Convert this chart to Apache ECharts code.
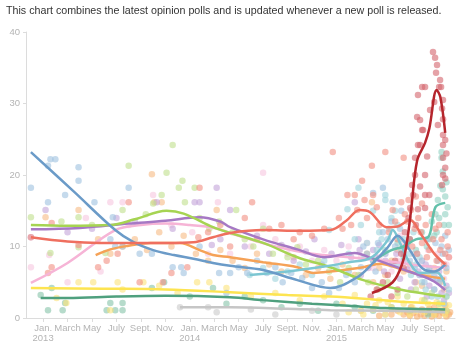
<!DOCTYPE html>
<html>
<head>
<meta charset="utf-8">
<script src="https://cdn.jsdelivr.net/npm/echarts@6/dist/echarts.min.js"></script>
<style>
  html, body { margin: 0; padding: 0; background: #fff; }
  #chart { width: 460px; height: 348px; }
</style>
</head>
<body>
<div id="chart"></div>
<script>
// x = months since Jan. 1, 2013; y = poll share (%)
const tickMonths = [0, 2, 4, 6, 8, 10, 12, 14, 16, 18, 20, 22, 24, 26, 28, 30, 32];
const monthNames = ['Jan.', 'March', 'May', 'July', 'Sept.', 'Nov.'];
const yTicks = [0, 10, 20, 30, 40];

// ---- smoothed trend lines ----
const trumpTrend = [[26.9,3.5],[28.6,5.0],[29.4,7.7],[29.8,11],[30.1,15],[30.6,22],[31.25,24.5],[31.6,26.5],[32.2,31.9],[32.5,30.9],[32.9,25.9]];
const bushTrend = [[-1,11.3],[2,10.7],[4.6,10.5],[7.4,10.5],[10.2,10.5],[12.3,10.6],[13.9,11.3],[15.3,11.9],[18,12.3],[21,12.2],[23.5,12.3],[24.8,13.6],[25.9,15.1],[26.75,14.8],[28.1,12.7],[29,12.8],[30,13.7],[31,11.5],[32,9.0],[32.9,7.5]];
const rubioTrend = [[-1,23.2],[2.5,17.7],[5.9,12.3],[7.4,10.6],[9,9.5],[10.7,8.8],[12.3,8.3],[13.9,7.7],[15.3,7.3],[18,6.7],[20.8,5.3],[23.5,4.2],[25.7,5.7],[27,7.7],[28.2,9.9],[29,11.5],[30,9.5],[31,7.0],[32,6.5],[32.9,7.5]];
const christieTrend = [[-1,13.0],[2,12.9],[5.5,13.0],[7.5,13.8],[10.1,15.0],[11.5,14.6],[13.9,12.7],[15.3,11.9],[18,10.5],[20.8,8.5],[23.5,7.1],[26.2,5.3],[29.2,4.0],[32.9,3.0]];
const paulTrend = [[-1,12.4],[3,12.6],[7,13.2],[10,13.6],[12.8,14.1],[14.5,13.5],[15.3,12.7],[18,11.0],[20.8,9.6],[23,8.5],[25.5,9.1],[26.8,8.4],[29.6,6.7],[31.8,5.3],[32.9,3.9]];
const cruzTrend = [[-1,4.9],[2,7.7],[5.9,12.3],[8,13.0],[10,13.2],[12,13.0],[14,12.6],[16,11.5],[19,10.0],[22,9.0],[25,8.5],[28,8.0],[30,7.5],[32.9,7.0]];
const orangeTrend = [[4.3,8.8],[5.5,9.6],[7,10.1],[8.8,10.5],[11.2,10.5],[12.8,9.5],[13.9,8.8],[15.3,8.5],[18,7.8],[20.8,7.1],[22.1,6.3],[23.5,6.5],[26.2,7.1],[27.6,7.6],[29,7.0],[31,6.0],[32.9,5.5]];
const yellowTrend = [[-1,4.2],[5,4.1],[10,4.0],[15.3,3.6],[20,3.2],[23.5,3.0],[27,2.6],[30,2.2],[32.9,2.0]];
const greenTrend = [[-0.2,2.8],[2,2.8],[6,3.0],[10,3.1],[15.3,2.9],[18,2.5],[22,2.0],[25,1.7],[28,1.4],[32.9,1.2]];
const greyTrend = [[11.2,1.5],[15.3,1.5],[20,1.3],[23.5,1.1],[28,1.0],[32.9,0.8]];
const walkerTrend = [[16.9,6.0],[20,6.5],[23,7.2],[25,7.8],[26.8,8.4],[28.2,10.9],[28.6,12.3],[29.2,10.5],[30,7.7],[30.8,6.3],[32.2,6.4],[32.9,4.5]];
const carsonTrend = [[27,8.0],[28.5,9.5],[29.5,10.0],[30.5,11.0],[31.5,11.3],[32.1,15.5],[32.9,16.1]];

// ---- individual polls ----
const trumpPolls = [[31.66,40.2],[31.9,37.2],[32.07,36.4],[32.23,35.4],[32.15,34.3],[32.48,33.3],[32.56,32.3],[31.01,32.3],[31.25,32.3],[32.4,32.3],[30.67,31.2],[32.0,30.2],[32.72,30.5],[31.66,29.1],[32.64,29.3],[30.6,28.1],[30.84,27.7],[32.3,27.0],[32.72,27.8],[31.01,26.3],[31.09,26.3],[32.72,25.6],[30.67,24.2],[30.84,24.2],[32.9,24.9],[32.72,24.2],[30.43,22.4],[31.42,22.6],[32.72,22.4],[30.43,20.0],[31.25,20.0],[32.72,20.0],[30.19,18.6],[30.84,18.4],[32.64,18.6],[30.27,17.2],[31.25,17.2],[31.6,17.2],[30.03,15.4],[30.67,15.2],[31.25,15.4],[29.9,14.0],[30.5,13.0],[29.6,12.0],[30.0,11.0],[29.7,10.0],[29.3,9.0],[28.8,8.0],[29.5,7.0],[28.2,6.0],[27.8,5.0],[29.0,4.0],[27.3,4.0],[26.8,3.0],[28.5,3.0],[32.9,21.0],[33.0,23.0],[32.9,19.5]];
const bushPolls = [[-1,11.3],[0.4,6.3],[0.7,7.1],[0.7,13.3],[2.9,10.2],[4.5,7.1],[5.2,8.0],[6.1,9.0],[7.9,5.0],[9.8,5.0],[10.5,6.3],[11.8,7.1],[12.7,11.3],[7.0,16.2],[12.8,18.2],[13.5,12.0],[14.5,13.0],[15.3,10.0],[16.5,14.0],[17.5,11.0],[18.5,12.5],[19.5,13.0],[20.5,11.0],[17.1,16.2],[22.0,11.5],[23.0,12.5],[21.0,12.0],[23.7,23.2],[24.5,12.5],[24.9,17.2],[25.5,17.2],[25.7,15.1],[26.1,19.2],[26.5,14.0],[26.9,21.3],[27.0,17.2],[27.5,13.0],[28.0,23.2],[28.3,12.0],[28.6,15.1],[29.0,11.0],[29.3,16.2],[29.5,22.4],[29.8,13.5],[30.1,15.1],[30.4,12.5],[30.7,14.0],[31.0,10.5],[31.3,13.0],[31.6,9.5],[31.9,11.0],[32.2,8.0],[32.5,9.5],[32.8,7.5],[33.1,10.0],[33.1,12.0],[32.4,13.0],[31.0,16.0],[30.5,17.0],[24.2,14.0],[25.2,13.0],[26.3,16.5],[27.3,15.5],[28.8,13.5],[29.9,16.5],[30.2,10.0],[30.9,12.0],[31.4,8.5],[31.8,14.5],[32.1,12.5],[32.6,11.0],[32.9,9.0],[33.2,8.5],[30.6,9.0],[29.6,14.5]];
const rubioPolls = [[-1,18.2],[0.4,21.3],[0.6,22.2],[1.0,22.2],[0.4,16.2],[1.8,17.2],[2.9,21.1],[2.9,19.2],[4.2,16.2],[7.0,18.2],[5.7,14.1],[5.5,11.0],[5.9,10.0],[6.5,10.0],[7.9,9.0],[8.9,9.0],[10.6,7.1],[11.3,7.1],[11.5,6.3],[12.8,10.0],[14.4,6.3],[15.3,6.3],[15.0,3.5],[16,7.1],[16.7,6.3],[17.5,8.0],[18.3,6.3],[19,7.1],[19.6,5.0],[20.3,6.3],[21.2,5.6],[22,4.2],[22.8,5.0],[23.4,3.5],[24.2,4.2],[24.8,6.0],[25.5,5.0],[26,7.1],[26.5,9.0],[27,8.0],[27.4,10.5],[27.8,12.0],[28.2,11.0],[28.5,13.5],[28.8,10.0],[29.2,12.5],[29.5,9.0],[30,8.0],[30.4,7.0],[30.8,6.0],[31.2,5.0],[31.6,7.0],[32,6.0],[32.3,8.0],[32.7,9.0],[33,7.0],[31.9,5.5],[32.6,10.0],[27.8,18.2],[28.6,16.2],[27,17.5],[29.3,15.0],[25,6.5],[26.2,10.0],[27.2,6.5],[28,9.0],[29,7.5],[29.8,10.5],[30.6,9.0],[31.0,8.0],[31.4,11.0],[32.1,10.5],[32.9,11.5],[33.2,9.5],[32.4,5.0]];
const christiePolls = [[-1,14.1],[0.6,9.1],[2.9,9.9],[2.9,14.1],[5.1,9.1],[6.5,15.1],[7.0,21.3],[9.7,17.2],[10.1,20.3],[10.6,24.2],[11.4,19.2],[11.1,18.2],[11.6,16.2],[12.4,18.2],[8.4,14.5],[9.0,16.0],[4.0,13.0],[1.5,13.5],[12.8,14.0],[13.6,12.5],[14.4,13.5],[15.5,12.0],[15.8,15.1],[16.5,11.0],[17.2,10.0],[18.0,12.5],[18.8,9.0],[19.4,10.0],[20.0,8.5],[20.8,9.9],[21.5,7.5],[22.5,8.0],[23.4,6.5],[24.3,5.0],[25.0,7.0],[25.8,6.0],[26.6,5.0],[27.4,4.0],[28.2,5.0],[29.0,3.5],[29.8,3.0],[30.5,4.0],[31.2,2.5],[31.8,3.5],[32.4,2.0],[33,3.0]];
const paulPolls = [[-1,11.3],[0.2,15.1],[2,12.0],[4,12.5],[6,14.0],[7.5,13.5],[9.3,16.2],[10.6,12.5],[12.4,16.2],[12.8,16.2],[14.2,18.2],[15.3,15.1],[13.8,10.2],[14.5,11.0],[16.5,10.0],[17.5,11.5],[18.5,9.0],[19.5,10.2],[20.5,8.0],[21.5,9.3],[22.2,11.0],[22.8,7.5],[23.6,9.0],[24.4,10.2],[25.2,8.5],[25.9,9.5],[25.5,16.2],[26.6,7.0],[27.2,8.5],[27.9,6.5],[28.5,7.5],[29.2,5.5],[29.8,6.8],[30.4,5.0],[31.0,6.0],[31.6,4.5],[32.2,5.5],[32.6,3.5],[33.0,4.5],[31.4,3.0],[32.8,2.5],[30.1,4.0],[28.9,9.0],[27.5,10.2],[25.8,11.0],[26,6.0],[27,9.5],[28,8.0],[29.5,8.0],[30.7,6.5],[31.3,7.5],[32.0,4.0],[32.4,6.5],[33.2,3.5]];
const cruzPolls = [[-1,7.1],[0.5,8.8],[2,5.0],[4.7,6.5],[5.5,16.2],[6.5,16.2],[7.0,13.0],[9.0,17.2],[10.5,13.0],[12.2,12.0],[14.3,16.2],[15.3,9.0],[16,12.0],[17,10.0],[18,13.0],[18,20.3],[19,11.0],[20,9.0],[21,10.0],[22,8.0],[23,9.5],[24,8.0],[25,10.0],[26,8.5],[27,7.0],[28,9.0],[29,8.0],[30,7.0],[31,8.0],[32,6.5],[33,7.5],[31.5,9.5],[29.5,10.5],[13.5,9.0],[3.5,14.0],[26.5,10.5],[27.5,8.5],[28.5,6.5],[29.2,11.5],[30.3,9.0],[30.8,6.0],[31.7,7.0],[32.3,9.0],[32.8,5.5],[33.2,8.5]];
const orangePolls = [[0.2,14.1],[2.9,15.1],[8.9,20.1],[9.1,16.2],[9.7,16.2],[14.2,15.1],[4.5,11.0],[5.5,9.0],[6.5,10.0],[7.5,11.0],[8.5,9.5],[9.5,12.0],[10.5,10.0],[11.5,11.5],[12.5,9.0],[13.5,8.0],[14.5,9.5],[15.5,8.0],[16.5,7.0],[17.5,9.0],[18.5,7.5],[19.5,6.5],[20.5,8.5],[21.5,6.0],[22.5,7.0],[23.5,5.5],[24.5,7.5],[25.5,6.0],[26.5,9.0],[27.5,7.0],[28.5,8.0],[29.5,6.5],[30.5,5.0],[31.5,6.0],[32.5,5.0],[33.0,6.5],[26.9,16.2],[27,5.0],[28,6.0],[29,9.5],[30,7.5],[31,4.5],[32,7.0],[32.8,4.0]];
const yellowPolls = [[2.9,5.0],[4.1,5.0],[6.1,5.0],[8.2,5.0],[12.6,5.0],[13.6,5.0],[1.1,2.8],[1.9,2.1],[5.5,1.1],[6.5,4.0],[9.5,4.5],[11,3.5],[15,4.2],[17,3.0],[19,3.5],[21,2.5],[23,3.0],[24.5,2.0],[25.5,3.2],[26.5,2.0],[27.5,2.5],[28.5,1.5],[29.5,2.0],[30.5,1.0],[31.5,2.0],[32.5,1.5],[33,1.0],[32,0.5],[31,2.5],[29,3.0],[27,1.2],[26,1.0],[25,0.8],[28,0.5],[30,0.5],[26.2,0.5],[27.2,1.8],[28.2,2.2],[29.2,0.8],[30.2,1.5],[31.2,0.8],[32.2,2.2],[32.9,0.5],[33.2,1.8]];
const greenPolls = [[-0.2,3.2],[0.7,4.2],[0.4,1.1],[1.6,1.1],[1.8,2.1],[5.5,2.1],[6.5,2.1],[5.2,1.1],[5.9,1.1],[6.5,1.1],[8.9,4.2],[9.9,5.0],[13.9,4.2],[12,3.0],[15,2.0],[16.5,3.0],[18,2.5],[19.5,1.5],[21,2.0],[22.5,1.0],[24,2.0],[25.5,1.5],[27,1.0],[28.5,1.5],[30,1.0],[31.5,0.5],[33,1.0]];
const greyPolls = [[11.2,1.5],[13.5,1.5],[14.2,0.8],[17,1.2],[19,0.5],[22,1.0],[24,0.5],[26,1.0],[28,0.5],[30,1.0],[32,0.5]];
const walkerPolls = [[16.9,6.0],[18,7.0],[19,5.5],[20,6.5],[21,7.5],[22,6.0],[23,8.0],[24,7.0],[25,9.0],[25.5,11.0],[26,13.0],[26.5,10.5],[27,15.0],[27.5,12.0],[28,16.5],[28.5,14.0],[29,13.0],[29.5,11.0],[30,9.0],[30.5,7.5],[31,5.0],[31.5,6.5],[32,4.0],[32.5,5.5],[33,3.0],[31.8,3.0],[30.3,12.0],[23.4,12.3],[25.8,18.2],[28,17.2],[24.9,15.2],[26.3,8.5],[27.3,9.5],[27.7,11.0],[28.3,12.5],[28.8,15.0],[29.3,9.5],[30.1,6.0],[30.8,8.5],[31.3,4.0],[32.3,3.0],[32.8,2.0],[33.2,4.0]];
const carsonPolls = [[27,8.0],[28,9.5],[29,10.5],[29.5,8.5],[30,11.0],[30.5,9.5],[31,12.0],[31.4,10.0],[31.8,13.5],[32.1,14.5],[32.3,16.5],[32.5,18.5],[32.7,20.5],[32.9,17.0],[33.1,15.5],[32.6,22.4],[33.0,19.0],[32.2,12.0],[32.8,13.0],[32.6,23.2],[31.6,11.0],[32.0,11.5],[32.4,14.0],[32.9,14.5],[33.2,13.0],[32.7,18.0]];
const otherPolls = [[29.5,0.5],[30,0.3],[30.3,0.7],[30.6,0.2],[30.9,0.5],[31.2,0.3],[31.5,0.7],[31.8,0.2],[32.1,0.5],[32.4,0.3],[32.7,0.7],[33.0,0.2],[33.2,0.5],[28.5,0.5],[29,1.0],[31,1.2],[32,1.5],[32.8,1.0],[27.5,0.3],[29.8,0.8],[30.1,1.5],[31.6,1.3],[32.3,1.0],[32.9,1.8],[33.3,0.8]];

const groups = [
  { polls: greyPolls,     trend: greyTrend,     line: '#c6c6c6', dot: '#c9c9c9' },
  { polls: otherPolls,    trend: null,          line: '#f4a45c', dot: '#f6ae6c' },
  { polls: greenPolls,    trend: greenTrend,    line: '#4fa07e', dot: '#86c3a8' },
  { polls: yellowPolls,   trend: yellowTrend,   line: '#fde451', dot: '#fbe27a' },
  { polls: orangePolls,   trend: orangeTrend,   line: '#f5a257', dot: '#f7bb84' },
  { polls: cruzPolls,     trend: cruzTrend,     line: '#f6b4d6', dot: '#f6c6df' },
  { polls: paulPolls,     trend: paulTrend,     line: '#a678c4', dot: '#c3a3d8' },
  { polls: christiePolls, trend: christieTrend, line: '#a6d452', dot: '#bfdf8c' },
  { polls: walkerPolls,   trend: walkerTrend,   line: '#7cc6d2', dot: '#9ed3dc' },
  { polls: carsonPolls,   trend: carsonTrend,   line: '#62c0aa', dot: '#8fd0c1' },
  { polls: rubioPolls,    trend: rubioTrend,    line: '#6b9bc8', dot: '#9fc1df' },
  { polls: bushPolls,     trend: bushTrend,     line: '#ef6f5f', dot: '#f28f82' },
  { polls: trumpPolls,    trend: trumpTrend,    line: '#b5252c', dot: '#d4646c' }
];

const series = [];
groups.forEach(g => {
  series.push({
    type: 'scatter', data: g.polls, symbolSize: 6.5, silent: true, z: 2,
    itemStyle: { color: g.dot, opacity: 0.6 }
  });
});
groups.forEach(g => {
  if (!g.trend) return;
  series.push({
    type: 'line', data: g.trend, smooth: 0.35, showSymbol: false, silent: true, z: 3,
    lineStyle: { color: g.line, width: 2.5 }
  });
});

const chart = echarts.init(document.getElementById('chart'), null, { renderer: 'canvas' });
chart.setOption({
  animation: false,
  backgroundColor: '#fff',
  title: {
    text: 'This chart combines the latest opinion polls and is updated whenever a new poll is released.',
    left: 1, top: 1,
    textStyle: { fontFamily: 'Liberation Sans, Arial, sans-serif', fontSize: 10.7, fontWeight: 'normal', color: '#333' }
  },
  grid: { left: 26, right: 5, top: 32, bottom: 30 },
  xAxis: {
    type: 'value', min: -1.4, max: 33.7,
    axisLine: { show: true, onZero: false, lineStyle: { color: '#dcdcdc', width: 1 } },
    axisTick: { show: true, length: 4, customValues: tickMonths, lineStyle: { color: '#dcdcdc' } },
    axisLabel: {
      customValues: tickMonths, margin: 5, color: '#b4b4b4', fontSize: 9.5, lineHeight: 10.5,
      fontFamily: 'Liberation Sans, Arial, sans-serif',
      formatter: v => {
        const m = Math.round(v);
        const name = monthNames[(m % 12) / 2];
        return m % 12 === 0 ? name + '\n' + (2013 + m / 12) : name;
      }
    },
    splitLine: { show: false }
  },
  yAxis: {
    type: 'value', min: 0, max: 40, interval: 10,
    axisLine: { show: true, onZero: false, lineStyle: { color: '#dcdcdc', width: 1 } },
    axisTick: { show: true, length: 3, lineStyle: { color: '#dcdcdc' } },
    axisLabel: { color: '#b4b4b4', fontSize: 9.5, margin: 6, fontFamily: 'Liberation Sans, Arial, sans-serif' },
    splitLine: { show: false }
  },
  series: series
});
</script>
</body>
</html>
